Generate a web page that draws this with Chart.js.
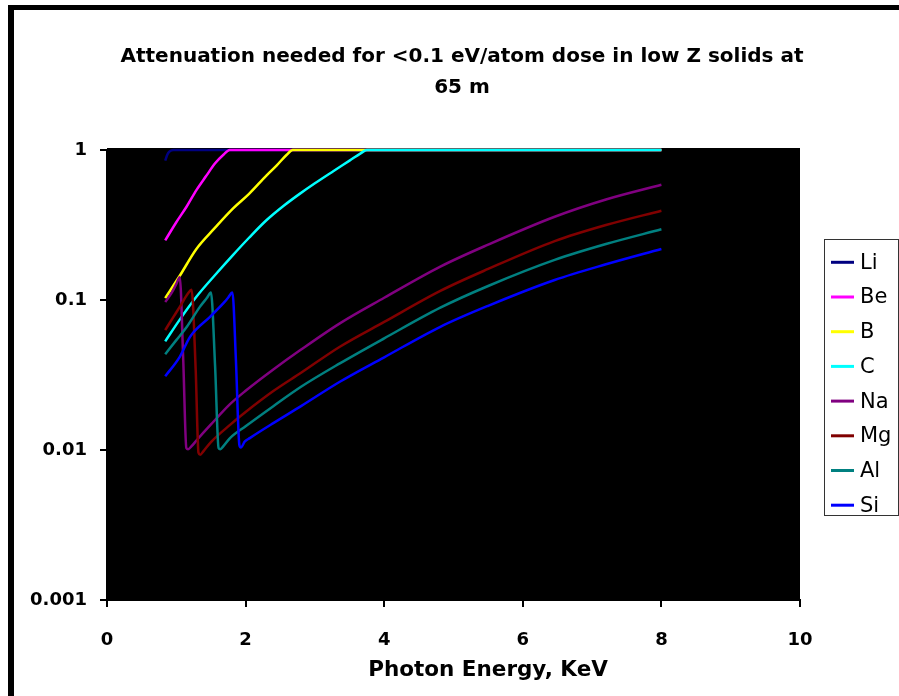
<!DOCTYPE html>
<html><head><meta charset="utf-8">
<script src="https://cdn.jsdelivr.net/npm/chart.js@4.4.1/dist/chart.umd.min.js"></script>
<style>html,body{margin:0;padding:0;background:#fff;}#wrap{position:relative;width:899px;height:696px;}</style>
</head><body><div id="wrap"><canvas id="c" width="899" height="696"></canvas></div>
<script>
const elements = ['Li','Be','B','C','Na','Mg','Al','Si'];
const seriesColors = ['#000080','#FF00FF','#FFFF00','#00FFFF','#800080','#800000','#008080','#0000FF'];

const liEnergy = [0.84,0.87,0.90,0.93,0.96,1.0,2.0,3.0,4.0,5.0,6.0,7.0,8.0];
const liValue  = [0.85,0.93,0.975,0.995,1,1,1,1,1,1,1,1,1];
const beEnergy = [0.84,1.0,1.15,1.29,1.43,1.56,1.68,1.77,2,3,4,5,6,7,8];
const beValue  = [0.25,0.33,0.42,0.54,0.67,0.815,0.93,1,1,1,1,1,1,1,1];
const bEnergy  = [0.84,1.05,1.29,1.55,1.82,2.05,2.30,2.45,2.59,2.68,3,4,5,6,7,8];
const bValue   = [0.103,0.145,0.219,0.30,0.408,0.51,0.675,0.79,0.926,1,1,1,1,1,1,1];
const cEnergy  = [0.84,1.05,1.29,1.55,1.82,2.05,2.30,2.55,2.78,3.0,3.27,3.5,3.66,3.75,4,5,6,7,8];
const cValue   = [0.053,0.074,0.105,0.145,0.2,0.26,0.34,0.425,0.51,0.60,0.725,0.85,0.95,1,1,1,1,1,1];
const naEnergy = [0.84,0.93,1.0,1.05,1.10,1.145,1.17,1.22,1.3,1.5,1.775,2.0,2.4,2.78,3.36,4.0,4.81,5.5,6.46,7.2,8.0];
const naValue  = [0.097,0.111,0.128,0.142,0.04,0.0103,0.0101,0.0106,0.0117,0.0148,0.0202,0.0248,0.0344,0.046,0.0699,0.1035,0.167,0.234,0.359,0.468,0.587];
const mgEnergy = [0.84,0.95,1.05,1.17,1.22,1.28,1.32,1.345,1.39,1.5,1.775,2.0,2.4,2.8,3.36,4.0,4.81,5.5,6.46,7.2,8.0];
const mgValue  = [0.063,0.076,0.09,0.111,0.117,0.034,0.0096,0.0093,0.0098,0.0113,0.0147,0.0179,0.0247,0.0327,0.0488,0.0714,0.115,0.161,0.247,0.316,0.394];
const alEnergy = [0.84,1.0,1.15,1.34,1.44,1.50,1.56,1.61,1.635,1.68,1.775,2.0,2.4,2.8,3.36,4.0,4.81,5.5,6.46,7.2,8.0];
const alValue  = [0.0435,0.054,0.066,0.09,0.103,0.112,0.036,0.0103,0.0101,0.0106,0.012,0.0144,0.0196,0.0264,0.0378,0.0555,0.0889,0.124,0.185,0.236,0.296];
const siEnergy = [0.84,1.05,1.2,1.49,1.70,1.75,1.81,1.86,1.91,1.93,1.99,2.06,2.4,2.8,3.36,4.0,4.81,5.5,6.46,7.2,8.0];
const siValue  = [0.031,0.0418,0.057,0.0775,0.0975,0.104,0.112,0.04,0.0108,0.0104,0.0114,0.012,0.0151,0.0196,0.0285,0.0415,0.0663,0.0915,0.136,0.173,0.219];

const yTickValues = [0.001, 0.01, 0.1, 1];
const xMin = 0, xMax = 10, xStep = 2;
const titleLines = ['Attenuation needed for <0.1 eV/atom dose in low Z solids at', '65 m'];
const xAxisTitle = 'Photon Energy, KeV';

const energies = [liEnergy, beEnergy, bEnergy, cEnergy, naEnergy, mgEnergy, alEnergy, siEnergy];
const values = [liValue, beValue, bValue, cValue, naValue, mgValue, alValue, siValue];

const datasets = elements.map((name, k) => ({
  label: name,
  data: energies[k].map((e, i) => ({x: e, y: values[k][i]})),
  borderColor: seriesColors[k],
  backgroundColor: seriesColors[k],
  borderWidth: 2.5,
  pointRadius: 0,
  fill: false,
  cubicInterpolationMode: 'monotone',
  clip: false,
  order: elements.length - k
}));

const FONT = "'DejaVu Sans', 'Liberation Sans', Arial, sans-serif";

const decor = {
  id: 'decor',
  beforeDraw(chart) {
    const {ctx, chartArea: a} = chart;
    ctx.save();
    ctx.fillStyle = '#000';
    ctx.fillRect(a.left, a.top - 2, a.right - a.left, a.bottom - a.top + 2);
    ctx.restore();
  },
  afterDraw(chart) {
    const {ctx} = chart;
    ctx.save();
    ctx.fillStyle = '#000';
    ctx.fillRect(8, 5, 891, 5);
    ctx.fillRect(8, 5, 6, 691);
    ctx.textAlign = 'center';
    ctx.textBaseline = 'middle';
    ctx.font = 'bold 20px ' + FONT;
    ctx.fillText(titleLines[0], 462, 57);
    ctx.fillText(titleLines[1], 462, 88);
    ctx.font = 'bold 21.5px ' + FONT;
    ctx.fillText(xAxisTitle, 488, 670);
    const lx = 824, ly = 239, lw = 75, lh = 277;
    ctx.fillStyle = '#fff';
    ctx.fillRect(lx, ly, lw, lh);
    ctx.strokeStyle = '#333';
    ctx.lineWidth = 1;
    ctx.strokeRect(lx + 0.5, ly + 0.5, lw - 1, lh - 1);
    ctx.font = '21px ' + FONT;
    ctx.textAlign = 'left';
    chart.data.datasets.forEach((ds, i) => {
      const y = 262.3 + i * 34.7;
      ctx.strokeStyle = ds.borderColor;
      ctx.lineWidth = 3;
      ctx.beginPath();
      ctx.moveTo(831, y);
      ctx.lineTo(854, y);
      ctx.stroke();
      ctx.fillStyle = '#000';
      ctx.fillText(ds.label, 860, y + 1);
    });
    ctx.restore();
  }
};

new Chart(document.getElementById('c'), {
  type: 'line',
  data: {datasets},
  options: {
    responsive: false,
    animation: false,
    devicePixelRatio: 1,
    layout: {padding: {top: 150, right: 99, left: 0, bottom: 0}},
    plugins: {legend: {display: false}, title: {display: false}, tooltip: {enabled: false}},
    scales: {
      x: {
        type: 'linear', min: xMin, max: xMax,
        ticks: {stepSize: xStep, color: '#000', font: {family: FONT, size: 18, weight: 'bold'}, padding: 23, maxRotation: 0},
        grid: {drawOnChartArea: false, drawTicks: true, tickLength: 7, color: '#000', lineWidth: 2},
        border: {display: true, color: '#000', width: 2},
        afterFit(s) { s.height = 96; }
      },
      y: {
        type: 'logarithmic', min: 0.001, max: 1,
        afterBuildTicks(s) { s.ticks = yTickValues.map(v => ({value: v})); },
        ticks: {color: '#000', font: {family: FONT, size: 18, weight: 'bold'}, padding: 13, callback: v => String(v)},
        grid: {drawOnChartArea: false, drawTicks: true, tickLength: 7, color: '#000', lineWidth: 2},
        border: {display: true, color: '#000', width: 2},
        afterFit(s) { s.width = 107; }
      }
    }
  },
  plugins: [decor]
});
</script></body></html>
